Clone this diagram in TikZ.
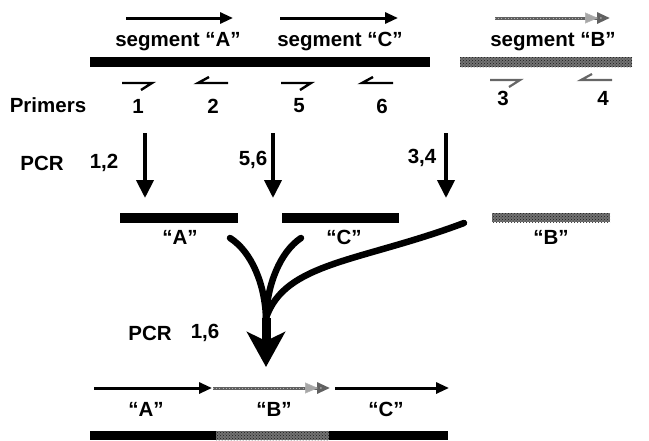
\documentclass[tikz,border=0pt]{standalone}
\usepackage{fontspec}
\setmainfont{Liberation Sans}
\usetikzlibrary{arrows.meta,patterns}
\begin{document}
\begin{tikzpicture}[x=1pt,y=-1pt,
  lbl/.style={font=\fontsize{20.5}{22}\selectfont\bfseries, inner sep=0pt, anchor=center},
  blackbar/.style={fill=black, draw=none},
  graybar/.style={fill=black!55, draw=none, postaction={pattern=crosshatch dots, pattern color=black!90}},
  segarrow/.style={line width=3pt, -{Triangle[length=13pt,width=11pt]}},
  grayarrow/.style={line width=3pt, draw=black!62, -{Triangle[length=13pt,width=11pt,open,fill=black!35]},
    postaction={draw=white!70!black, line width=0.6pt, dash pattern=on 0.8pt off 2.4pt, shorten >=12pt}},
  pcrarrow/.style={line width=4pt, -{Triangle[length=18pt,width=17pt]}},
  primer/.style={line width=2.4pt},
  grayprimer/.style={line width=2.2pt, draw=black!60},
  merge/.style={line width=6.5pt, line cap=round}
]
\useasboundingbox (0,0) rectangle (649,440);

% ---- full template: segments A and C, separate segment B ----
\coordinate (aS) at (126,18); \coordinate (aE) at (233,18);
\coordinate (cS) at (280,18); \coordinate (cE) at (398,18);
\coordinate (bS) at (495,18); \coordinate (bE) at (610,18);
\draw[segarrow] (aS) -- (aE);
\draw[segarrow] (cS) -- (cE);
\draw[grayarrow] (bS) -- (bE);

\node[lbl] (segA) at (178,42) {segment “A”};
\node[lbl] (segC) at (340,42) {segment “C”};
\node[lbl] (segB) at (553,42) {segment “B”};

\fill[blackbar] (90,57) rectangle (430,67);
\fill[graybar] (460,57) rectangle (632,67);

% primers
\draw[primer] (122,83) -- (152,83) -- (141,90);
\draw[primer] (228,83) -- (198,83) -- (209,77);
\draw[primer] (281,83) -- (311,83) -- (300,90);
\draw[primer] (393,83) -- (362,83) -- (373,77);
\draw[grayprimer] (490,80) -- (520,80) -- (509,87);
\draw[grayprimer] (612,80) -- (581,80) -- (592,74);

\node[lbl] (primers) at (48,105) {Primers};
\node[lbl] (p1) at (138,106) {1};
\node[lbl] (p2) at (213,106) {2};
\node[lbl] (p5) at (299,106) {5};
\node[lbl] (p6) at (382,106) {6};
\node[lbl] (p3) at (503,98) {3};
\node[lbl] (p4) at (603,98) {4};

% ---- first PCR round ----
\node[lbl] (pcr1) at (42,163) {PCR};
\node[lbl] (pp12) at (104,163) {1,2};
\node[lbl] (pp56) at (253,160) {5,6};
\node[lbl] (pp34) at (422,158) {3,4};

\coordinate (t1) at (145,133); \coordinate (h1) at (145,198);
\coordinate (t2) at (273,133); \coordinate (h2) at (273,198);
\coordinate (t3) at (446,133); \coordinate (h3) at (446,198);
\draw[pcrarrow] (t1) -- (h1);
\draw[pcrarrow] (t2) -- (h2);
\draw[pcrarrow] (t3) -- (h3);

\fill[blackbar] (120,213) rectangle (238,223);
\fill[blackbar] (282,213) rectangle (399,223);
\fill[graybar] (492,213) rectangle (610,222);

\node[lbl] (prA) at (180,237) {“A”};
\node[lbl] (prC) at (344,237) {“C”};
\node[lbl] (prB) at (551,237) {“B”};

% ---- fusion PCR ----
\coordinate (fA) at (230,238);
\coordinate (fC) at (301,238);
\coordinate (fB) at (464,223);
\coordinate (join) at (266,318);
\coordinate (tip) at (266,367);
\draw[merge] (fA) .. controls (252,252) and (265,285) .. (join);
\draw[merge] (fC) .. controls (280,252) and (267,285) .. (join);
\draw[merge] (fB) .. controls (360,262) and (285,262) .. (join);
\draw[line width=9pt, -{Stealth[length=35pt,width=38pt,inset=9pt]}] (join) -- (tip);

\node[lbl] (pcr2) at (150,333) {PCR};
\node[lbl] (pp16) at (205,333) {1,6};

% ---- fused product ----
\coordinate (fa0) at (94,388); \coordinate (fa1) at (212,388);
\coordinate (fb0) at (213,388); \coordinate (fb1) at (330,388);
\coordinate (fc0) at (335,388); \coordinate (fc1) at (449,388);
\draw[segarrow] (fa0) -- (fa1);
\draw[grayarrow] (fb0) -- (fb1);
\draw[segarrow] (fc0) -- (fc1);

\node[lbl] (fusA) at (146,409) {“A”};
\node[lbl] (fusB) at (274,409) {“B”};
\node[lbl] (fusC) at (386,409) {“C”};

\fill[blackbar] (90,431) rectangle (448,440);
\fill[graybar] (216,431) rectangle (329,440);
\end{tikzpicture}
\end{document}
